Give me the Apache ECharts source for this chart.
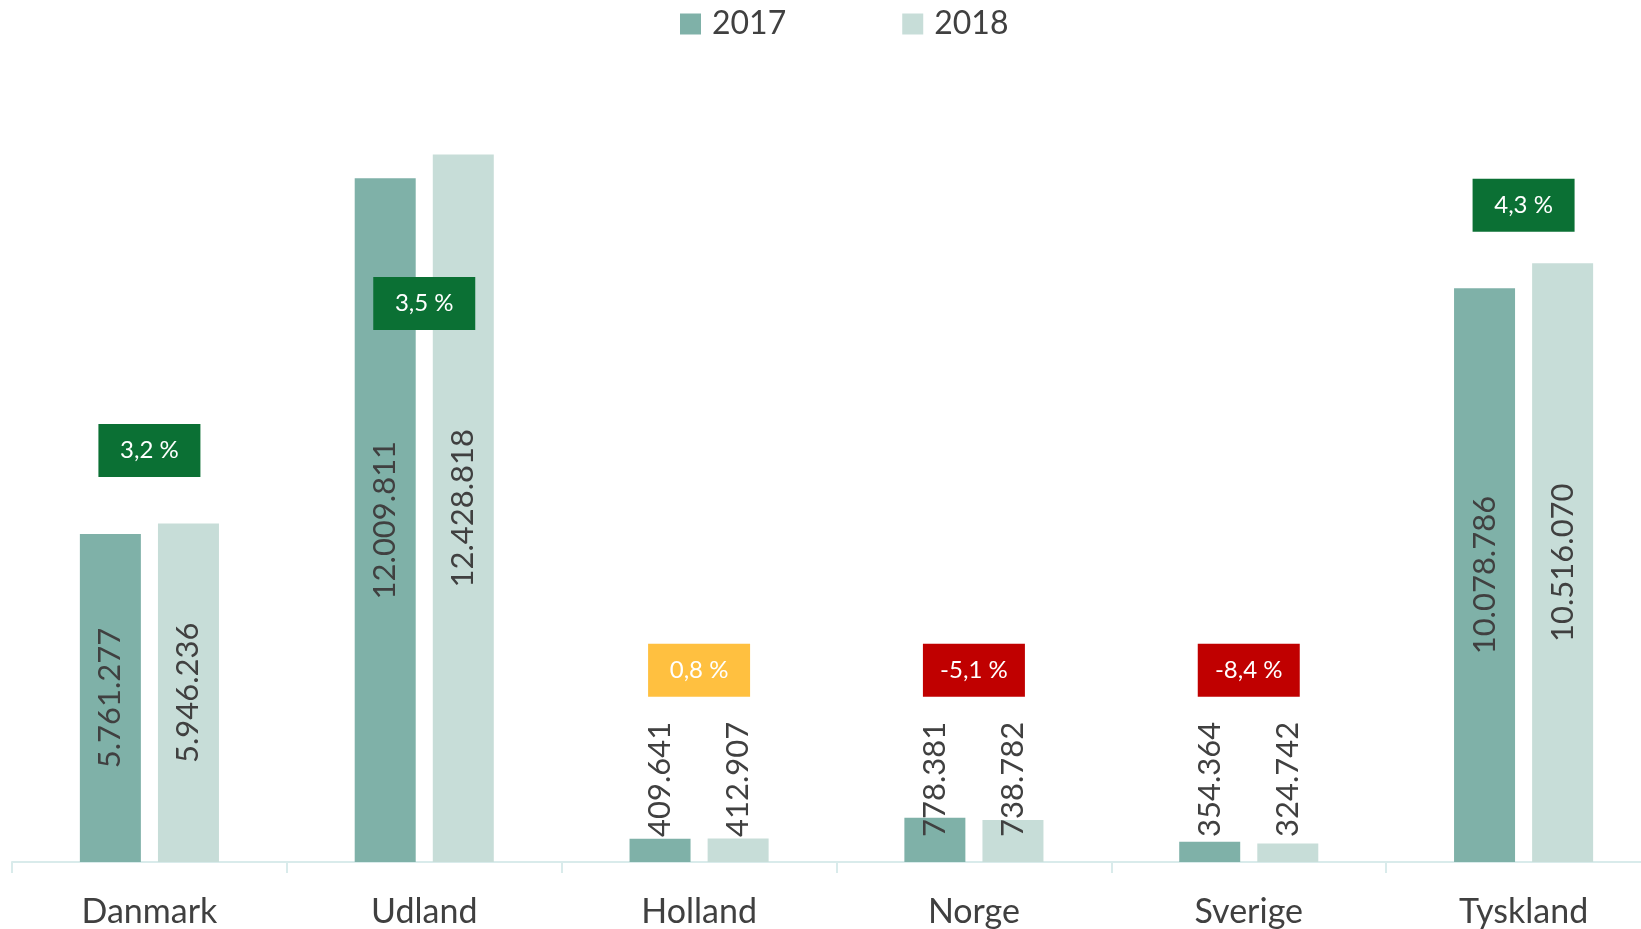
<!DOCTYPE html>
<html>
<head>
<meta charset="utf-8">
<script src="https://cdn.jsdelivr.net/npm/echarts@6/dist/echarts.min.js"></script>
<style>
  html, body { margin: 0; padding: 0; background: #fff; }
  #chart { width: 1641px; height: 929px; }
</style>
</head>
<body>
<div id="chart"></div>
<script>
// data
const lande = ['Danmark', 'Udland', 'Holland', 'Norge', 'Sverige', 'Tyskland']
const aar2017 = [5761277, 12009811, 409641, 778381, 354364, 10078786]
const aar2018 = [5946236, 12428818, 412907, 738782, 324742, 10516070]
const aendring = ['3,2 %', '3,5 %', '0,8 %', '-5,1 %', '-8,4 %', '4,3 %']
// hvor boksene med procent sidder (i aksens enheder)
const boksNiveau = [7230000, 9810000, 3370000, 3370000, 3370000, 11535000]
const boksFarve = ['#0b7034', '#0b7034', '#ffc040', '#c00000', '#c00000', '#0b7034']

const fmt = (v) => String(v).replace(/\B(?=(\d{3})+(?!\d))/g, '.')

function barData(values) {
    return values.map((v) => {
        if (v < 1500000) {
            // smaa soejler: tallet staar over soejlen
            return {
                value: v,
                label: { position: 'insideBottom', distance: 25, align: 'left', verticalAlign: 'middle' }
            }
        }
        return v
    })
}

const valueLabel = {
    show: true,
    rotate: 90,
    position: 'inside',
    color: '#404040',
    fontFamily: 'Lato',
    fontSize: 31,
    formatter: (p) => fmt(p.value)
}

var chart = echarts.init(document.getElementById('chart'))
option = {
    animation: false,
    textStyle: { fontFamily: 'Lato' },
    legend: {
        data: ['2017', '2018'],
        top: 3,
        left: 675,
        icon: 'rect',
        itemWidth: 21,
        itemHeight: 21,
        itemGap: 116,
        textStyle: { fontSize: 32, color: '#404040', fontFamily: 'Lato', padding: [0, 0, 0, 6] }
    },
    grid: {
        left: 12,
        width: 1649,
        top: 65,
        bottom: 67,
        outerBoundsMode: 'none',
        containLabel: false
    },
    xAxis: {
        type: 'category',
        data: lande,
        axisLine: { lineStyle: { color: '#d9ebeb', width: 2 } },
        axisTick: { show: true, length: 11, lineStyle: { color: '#d9ebeb', width: 2 } },
        axisLabel: { color: '#404040', fontSize: 34, fontFamily: 'Lato', margin: 33 }
    },
    yAxis: {
        type: 'value',
        min: 0,
        max: 14000000,
        show: false,
        splitLine: { show: false }
    },
    series: [
        {
            name: '2017',
            type: 'bar',
            barWidth: 61,
            barGap: '28%',
            itemStyle: { color: '#7fb1a8' },
            label: valueLabel,
            data: barData(aar2017)
        },
        {
            name: '2018',
            type: 'bar',
            barWidth: 61,
            itemStyle: { color: '#c7ddd8' },
            label: valueLabel,
            data: barData(aar2018)
        },
        {
            name: 'aendring',
            type: 'scatter',
            symbol: 'rect',
            symbolSize: [102, 53],
            z: 5,
            data: boksNiveau.map((v, i) => ({
                value: [i, v],
                itemStyle: { color: boksFarve[i], opacity: 1 },
                label: {
                    show: true,
                    position: 'inside',
                    formatter: aendring[i],
                    color: '#ffffff',
                    fontFamily: 'Lato',
                    fontSize: 24
                }
            }))
        }
    ]
}
chart.setOption(option)
</script>
</body>
</html>
